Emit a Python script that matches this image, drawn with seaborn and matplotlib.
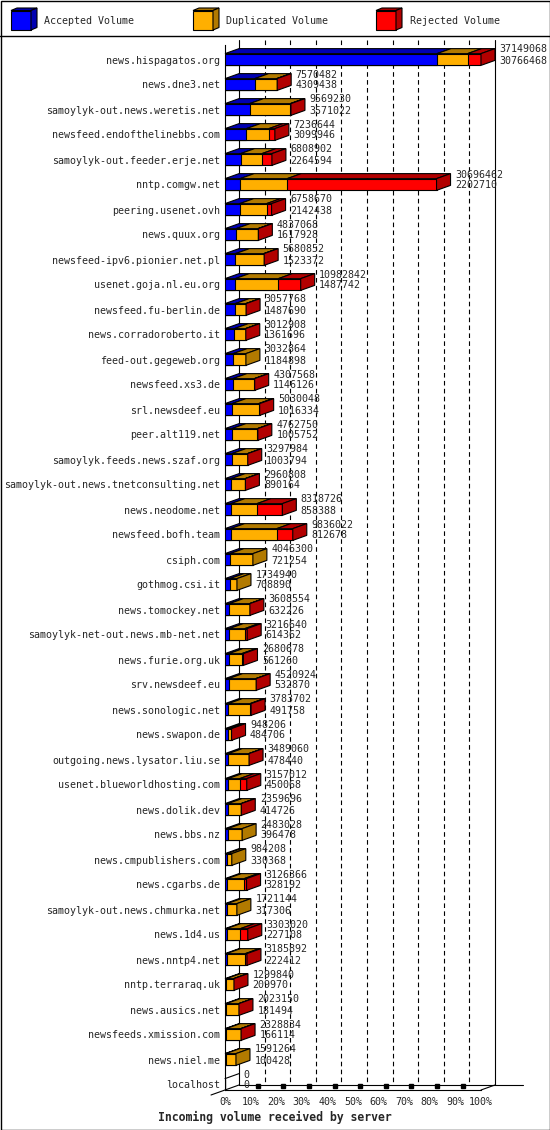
import numpy as np
import pandas as pd
import matplotlib
matplotlib.use('Agg')
import matplotlib.pyplot as plt
import seaborn as sns
from matplotlib.patches import Polygon, Rectangle

# data (bytes); duplicated / rejected
servers = ['news.hispagatos.org', 'news.dne3.net', 'samoylyk-out.news.weretis.net',
           'newsfeed.endofthelinebbs.com', 'samoylyk-out.feeder.erje.net', 'nntp.comgw.net',
           'peering.usenet.ovh', 'news.quux.org', 'newsfeed-ipv6.pionier.net.pl',
           'usenet.goja.nl.eu.org', 'newsfeed.fu-berlin.de', 'news.corradoroberto.it',
           'feed-out.gegeweb.org', 'newsfeed.xs3.de', 'srl.newsdeef.eu', 'peer.alt119.net',
           'samoylyk.feeds.news.szaf.org', 'samoylyk-out.news.tnetconsulting.net',
           'news.neodome.net', 'newsfeed.bofh.team', 'csiph.com', 'gothmog.csi.it',
           'news.tomockey.net', 'samoylyk-net-out.news.mb-net.net', 'news.furie.org.uk',
           'srv.newsdeef.eu', 'news.sonologic.net', 'news.swapon.de',
           'outgoing.news.lysator.liu.se', 'usenet.blueworldhosting.com', 'news.dolik.dev',
           'news.bbs.nz', 'news.cmpublishers.com', 'news.cgarbs.de',
           'samoylyk-out.news.chmurka.net', 'news.1d4.us', 'news.nntp4.net',
           'nntp.terraraq.uk', 'news.ausics.net', 'newsfeeds.xmission.com', 'news.niel.me',
           'localhost']
total = [37149068, 7570482, 9569230, 7236644, 6808902, 30696462, 6758670, 4837068,
         5680852, 10982842, 3057768, 3012908, 3032864, 4307568, 5030048, 4762750,
         3297984, 2960808, 8318726, 9836022, 4046300, 1734940, 3608554, 3216640,
         2680678, 4520924, 3783702, 948206, 3489060, 3157012, 2359696, 2483028,
         984208, 3126366, 1721144, 3303020, 3185892, 1299840, 2023150, 2328834,
         1591264, 0]
accepted = [30766468, 4309438, 3571022, 3099946, 2264594, 2202710, 2142438, 1617928,
            1523372, 1487742, 1487690, 1361696, 1184898, 1146126, 1016334, 1005752,
            1003794, 890164, 858388, 812678, 721254, 708890, 632226, 614362,
            561260, 532870, 491758, 484706, 478440, 450068, 414726, 396478,
            330368, 328192, 317306, 227108, 222412, 209970, 181494, 166114,
            100428, 0]
duplicated = [4442600, 3181044, 5898208, 3266698, 3094308, 6823752, 3886232, 3169140,
              4097480, 6255100, 1540078, 1621212, 1847966, 3121442, 3863714, 3706998,
              2264190, 2040644, 3780338, 6703344, 3325046, 1026050, 2936328, 2262278,
              1879418, 3938054, 3141944, 443500, 2970620, 1686944, 1914970, 2086550,
              653840, 2458174, 1403838, 2015912, 2723480, 1069870, 1821656, 2132720,
              1490836, 0]
rejected = [1940000, 80000, 100000, 870000, 1450000, 21670000, 730000, 50000,
            60000, 3240000, 30000, 30000, 0, 40000, 150000, 50000,
            30000, 30000, 3680000, 2320000, 0, 0, 40000, 340000,
            240000, 50000, 150000, 20000, 40000, 1020000, 30000, 0,
            0, 340000, 0, 1060000, 240000, 20000, 20000, 30000,
            0, 0]
pct_ticks = list(range(0, 101, 10))
legend_names = ['Accepted Volume', 'Duplicated Volume', 'Rejected Volume']

front = {'acc': '#0000FF', 'dup': '#FFAF00', 'rej': '#FF0000'}
shade = {'acc': '#0000B2', 'dup': '#B27A00', 'rej': '#B20000'}

scale = max(total)
df = pd.DataFrame({'server': servers})
df['acc'] = np.array(accepted) / scale * 100
df['dup'] = np.array(duplicated) / scale * 100
df['rej'] = np.array(rejected) / scale * 100
df['acc_dup'] = df['acc'] + df['dup']
df['all'] = df['acc_dup'] + df['rej']

sns.set_style('white')
plt.rcParams['font.family'] = ['DejaVu Sans Mono']
plt.rcParams['font.size'] = 7.2
plt.rcParams['lines.scale_dashes'] = False

W, H = 550, 1130
fig = plt.figure(figsize=(W / 100, H / 100), dpi=100)

bg = fig.add_axes([0, 0, 1, 1], zorder=0)
bg.set_xlim(0, W)
bg.set_ylim(H, 0)
bg.axis('off')

# front plane of the plot, in pixels
X0, X1, Y0, Y1 = 225, 481, 45, 1090
ROW0, PITCH = 59.5, 25
ax = fig.add_axes([X0 / W, 1 - Y1 / H, (X1 - X0) / W, (Y1 - Y0) / H], zorder=1)
ax.patch.set_alpha(0)

bar_w = 0.47
for col, key in [('all', 'rej'), ('acc_dup', 'dup'), ('acc', 'acc')]:
    sns.barplot(data=df, x=col, y='server', orient='h', color=front[key], saturation=1,
                width=bar_w, edgecolor='black', linewidth=0.8, errorbar=None, ax=ax, zorder=3)

yb = (Y1 - ROW0) / PITCH
yt = (Y0 - ROW0) / PITCH
ax.set_xlim(0, 100)
ax.set_ylim(yb, yt)
DX = 14 * 100 / (X1 - X0)
DY = 5 / PITCH
gap = 4.5 * 100 / (X1 - X0)

# back wall grid
for p in pct_ticks:
    if p in (0, 100):
        ax.plot([p + DX] * 2, [yt - DY, yb - DY], color='black', lw=0.8, clip_on=False, zorder=0.5)
    else:
        ax.plot([p + DX] * 2, [yt - DY, yb - DY], color='black', lw=0.8, ls='--',
                dashes=(3.3, 2.4), clip_on=False, zorder=0.5)
ax.plot([DX, (523 - X0) * 100 / (X1 - X0)], [yb - DY] * 2, color='black', lw=0.8, clip_on=False, zorder=0.5)
ax.plot([100, 100 + DX], [yb, yb - DY], color='black', lw=0.8, clip_on=False, zorder=0.5)
ax.plot([-DX, DX], [yb + DY, yb - DY], color='black', lw=0.8, clip_on=False, zorder=0.5)
for p in pct_ticks[1:-1]:
    ax.plot([p + 2.8], [yb - 0.16], marker='s', ms=2.2, color='black', clip_on=False, zorder=0.6)

# 3d top / side faces
h = bar_w / 2
for i, row in df.iterrows():
    top = i - h
    last = None
    for a, b, k in [(0, row['acc'], 'acc'), (row['acc'], row['acc_dup'], 'dup'),
                    (row['acc_dup'], row['all'], 'rej')]:
        if b > a:
            ax.add_patch(Polygon([(a, top), (b, top), (b + DX, top - DY), (a + DX, top - DY)],
                                 closed=True, fc=shade[k], ec='black', lw=0.8, clip_on=False, zorder=3))
            last = k
    e = row['all']
    if last is None:
        ax.plot([0, DX], [top, top - DY], color='black', lw=0.8, clip_on=False, zorder=3)
    else:
        ax.add_patch(Polygon([(e, top), (e + DX, top - DY), (e + DX, i + h - DY), (e, i + h)],
                             closed=True, fc=shade[last], ec='black', lw=0.8, clip_on=False, zorder=3))
    ax.text(e + DX + gap, i - 0.4, str(total[i]), ha='left', va='center', fontsize=7.2, clip_on=False)
    ax.text(e + DX + gap, i + 0.04, str(accepted[i]), ha='left', va='center', fontsize=7.2, clip_on=False)

sns.despine(ax=ax)
for s in ['left', 'bottom']:
    ax.spines[s].set_color('black')
    ax.spines[s].set_linewidth(0.8)
ax.set_xticks(pct_ticks)
ax.set_xticklabels([f'{p}%' for p in pct_ticks])
ax.tick_params(axis='x', length=3.6, width=0.8, color='black', direction='out', pad=1.5, labelsize=7.2)
ax.tick_params(axis='y', length=0, pad=3.6, labelsize=7.2)
ax.set_xlabel('')
ax.set_ylabel('')

# legend
for x0, name, key in zip([11, 193, 376], legend_names, ['acc', 'dup', 'rej']):
    bg.add_patch(Rectangle((x0, 10.5), 20, 19.5, fc=front[key], ec='black', lw=0.8))
    bg.add_patch(Polygon([(x0, 10.5), (x0 + 20, 10.5), (x0 + 26, 8), (x0 + 6, 8)], closed=True,
                         fc=shade[key], ec='black', lw=0.8))
    bg.add_patch(Polygon([(x0 + 20, 10.5), (x0 + 26, 8), (x0 + 26, 27.5), (x0 + 20, 30)], closed=True,
                         fc=shade[key], ec='black', lw=0.8))
    bg.text(x0 + 33.5, 21, name, ha='left', va='center', fontsize=7.2)
bg.plot([0, W], [36, 36], color='black', lw=1)
bg.add_patch(Rectangle((0.5, 0.5), W - 1, H - 1, fill=False, ec='black', lw=1))
bg.text(274.5, 1117, 'Incoming volume received by server', ha='center', va='center',
        fontsize=8.3, fontweight='bold')

fig.savefig('out.png', dpi=100, facecolor='white')
